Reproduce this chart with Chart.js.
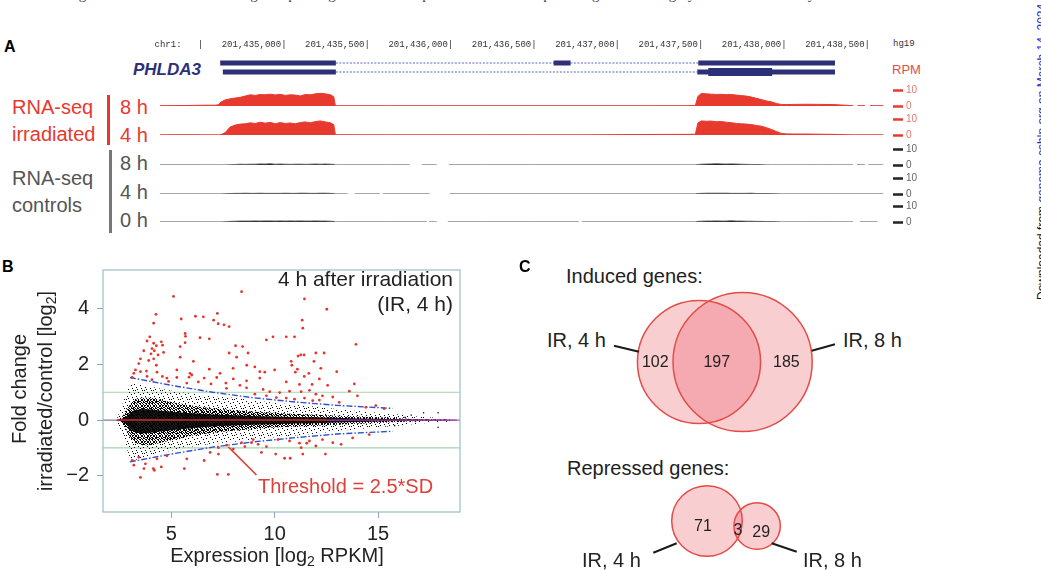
<!DOCTYPE html>
<html>
<head>
<meta charset="utf-8">
<script src="https://cdn.jsdelivr.net/npm/chart.js@4.4.1/dist/chart.umd.min.js"></script>
<style>
  body { margin: 0; width: 1041px; height: 574px; overflow: hidden; background: #fff;
         font-family: "Liberation Sans", Arial, sans-serif; position: relative; }
  .t { position: absolute; white-space: nowrap; line-height: 1; }
  .wrap { position: absolute; }
  sub { font-size: 70%; vertical-align: -0.3em; line-height: 0; }
</style>
</head>
<body>

<!-- bits of the page around the figure -->
<div class="t" style="left:0;top:-13px;font-family:'Liberation Serif',serif;font-size:15px;color:#444;">we waves of gene induction at individual genes peaking at either time point.&nbsp;&nbsp; The set of repressed genes was highly enriched for cell cycle</div>
<div class="t" style="left:1036px;top:300px;transform:rotate(-90deg);transform-origin:left top;font-size:12px;color:#111;">Downloaded from <span style="color:#1530d0">genome.cshlp.org on March 14, 2024</span></div>

<!-- panel A -->
<div class="t" style="left:4px;top:39px;font-size:16px;font-weight:bold;">A</div>
<div class="t" style="left:893px;top:40px;font-family:'Liberation Mono',monospace;font-size:9px;color:#333;">hg19</div>
<div class="t" style="left:133px;top:61px;font-size:17px;font-weight:bold;font-style:italic;color:#2c3079;">PHLDA3</div>
<div class="t" style="left:892px;top:63px;font-size:13px;color:#e0504a;">RPM</div>

<div class="t" style="left:12px;top:97px;font-size:20px;color:#e8382f;">RNA-seq</div>
<div class="t" style="left:12px;top:124px;font-size:20px;color:#e8382f;">irradiated</div>
<div class="wrap" style="left:107px;top:95px;width:3px;height:50px;background:#e8382f;"></div>
<div class="t" style="left:120px;top:97px;font-size:20px;color:#e8382f;">8 h</div>
<div class="t" style="left:120px;top:125px;font-size:20px;color:#e8382f;">4 h</div>

<div class="t" style="left:12px;top:168px;font-size:20px;color:#555;">RNA-seq</div>
<div class="t" style="left:12px;top:195px;font-size:20px;color:#555;">controls</div>
<div class="wrap" style="left:109px;top:150px;width:3px;height:83px;background:#777;"></div>
<div class="t" style="left:120px;top:153px;font-size:20px;color:#555;">8 h</div>
<div class="t" style="left:120px;top:182px;font-size:20px;color:#555;">4 h</div>
<div class="t" style="left:120px;top:210px;font-size:20px;color:#555;">0 h</div>

<div class="wrap" style="left:150px;top:36px;width:800px;height:46px;"><canvas id="gene"></canvas></div>
<div class="wrap" style="left:150px;top:81px;width:800px;height:34px;"><canvas id="trk0"></canvas></div>
<div class="wrap" style="left:150px;top:110px;width:800px;height:34px;"><canvas id="trk1"></canvas></div>
<div class="wrap" style="left:150px;top:140px;width:800px;height:34px;"><canvas id="trk2"></canvas></div>
<div class="wrap" style="left:150px;top:169px;width:800px;height:34px;"><canvas id="trk3"></canvas></div>
<div class="wrap" style="left:150px;top:197px;width:800px;height:34px;"><canvas id="trk4"></canvas></div>

<!-- panel B -->
<div class="t" style="left:2px;top:259px;font-size:16px;font-weight:bold;">B</div>
<div class="wrap" style="left:0;top:250px;width:470px;height:324px;"><canvas id="ma"></canvas></div>
<div class="t" style="left:-111px;top:379px;width:260px;text-align:center;font-size:20px;color:#222;transform:rotate(-90deg);">Fold change</div>
<div class="t" style="left:-85px;top:381px;width:260px;text-align:center;font-size:20px;color:#222;transform:rotate(-90deg);">irradiated/control [log<sub>2</sub>]</div>
<div class="t" style="left:77px;top:545px;width:400px;text-align:center;font-size:20px;color:#222;">Expression [log<sub>2</sub> RPKM]</div>
<div class="t" style="right:588px;top:268px;font-size:21px;color:#222;">4 h after irradiation</div>
<div class="t" style="right:588px;top:293px;font-size:21px;color:#222;">(IR, 4 h)</div>
<div class="t" style="left:258px;top:476px;font-size:20px;color:#e0403a;">Threshold = 2.5*SD</div>

<!-- panel C -->
<div class="t" style="left:519px;top:259px;font-size:16px;font-weight:bold;">C</div>
<div class="t" style="left:566px;top:266px;font-size:20px;color:#222;">Induced genes:</div>
<div class="t" style="left:547px;top:330px;font-size:20px;color:#222;">IR, 4 h</div>
<div class="t" style="left:843px;top:330px;font-size:20px;color:#222;">IR, 8 h</div>
<div class="t" style="left:567px;top:458px;font-size:20px;color:#222;">Repressed genes:</div>
<div class="t" style="left:582px;top:550px;font-size:20px;color:#222;">IR, 4 h</div>
<div class="t" style="left:803px;top:550px;font-size:20px;color:#222;">IR, 8 h</div>
<div class="wrap" style="left:520px;top:250px;width:400px;height:324px;"><canvas id="venn"></canvas></div>

<script>
// ---------- Panel A data: genome browser (positions in bp after chromStart) ----------
const chromStart = 201434000;
const rulerTicks = [500, 1000, 1500, 2000, 2500, 3000, 3500, 4000, 4500];

// PHLDA3 transcripts
const tx1Exons = [[602, 1296], [2602, 2704], [3470, 4290]];
const tx2Exons = [[618, 1296], [3464, 4290]];
const tx2Cds = [[3530, 3913]];

// coverage tracks (RPM)
const trackPos = [250, 400, 520, 580, 600, 615, 640, 670, 700, 730,
  760, 790, 820, 850, 880, 910, 940, 970, 1000, 1030,
  1060, 1090, 1120, 1150, 1180, 1210, 1240, 1270, 1290, 1300,
  1320, 1600, 1900, 2200, 2500, 2800, 3100, 3400, 3455, 3470,
  3490, 3520, 3550, 3580, 3610, 3640, 3670, 3700, 3730, 3760,
  3790, 3820, 3850, 3880, 3910, 3940, 3970, 4000, 4050, 4120,
  4200, 4280, 4350, 4400, 4580];

const ir8h = [0.2, 0.3, 0.5, 0.5, 0.8, 2.5, 3.8, 4.5, 5.0, 5.4,
  6.2, 7.0, 6.6, 7.2, 7.0, 7.4, 6.9, 7.3, 6.6, 7.0,
  6.8, 6.3, 7.2, 7.0, 7.6, 7.9, 7.6, 7.0, 5.8, 0.2,
  0.15, 0.15, 0.15, 0.15, 0.15, 0.15, 0.15, 0.2, 0.3, 6.0,
  7.8, 7.6, 7.4, 7.2, 7.3, 7.1, 7.2, 6.8, 6.5, 6.2,
  5.6, 4.8, 4.0, 3.2, 2.6, 1.6, 0.9, 0.9, 1.0, 1.1,
  1.0, 0.9, 0.5, 0.2, 0.2];
const ir4h = [0.1, 0.2, 0.1, 0.1, 0.1, 0.2, 1.5, 5.0, 6.2, 6.8,
  7.0, 7.6, 7.2, 8.0, 7.4, 7.9, 7.0, 7.8, 7.2, 7.5,
  7.0, 7.8, 8.2, 7.6, 8.4, 8.8, 8.2, 7.6, 6.5, 0.2,
  0.15, 0.1, 0.1, 0.1, 0.1, 0.1, 0.3, 0.4, 0.5, 7.5,
  8.8, 8.6, 8.7, 8.3, 8.4, 8.0, 7.7, 7.2, 7.0, 6.8,
  6.5, 6.0, 5.5, 4.6, 3.5, 2.2, 1.0, 0.7, 0.6, 0.6,
  0.5, 0.4, 0.2, 0.1, 0.1];
const ctl8h = [0.05, 0.05, 0.05, 0.05, 0.05, 0.05, 0.05, 0.1, 0.3, 0.5,
  0.4, 0.5, 0.5, 0.7, 0.6, 0.8, 0.5, 0.6, 0.5, 0.4,
  0.5, 0.5, 0.4, 0.5, 0.6, 0.5, 0.6, 0.5, 0.4, 0.05,
  0.05, 0.05, 0.05, 0.05, 0.05, 0.05, 0.05, 0.05, 0.05, 0.3,
  0.5, 0.6, 0.7, 0.8, 0.7, 0.6, 0.7, 0.6, 0.5, 0.4,
  0.3, 0.3, 0.2, 0.05, 0.05, 0.05, 0.05, 0.05, 0.05, 0.05,
  0.05, 0.05, 0.05, 0.05, 0.05];
const ctl4h = [0.05, 0.05, 0.05, 0.05, 0.05, 0.05, 0.1, 0.3, 0.4, 0.4,
  0.5, 0.4, 0.4, 0.5, 0.4, 0.4, 0.4, 0.4, 0.5, 0.4,
  0.4, 0.5, 0.5, 0.4, 0.4, 0.5, 0.5, 0.4, 0.3, 0.05,
  0.05, 0.05, 0.05, 0.05, 0.05, 0.05, 0.05, 0.05, 0.05, 0.3,
  0.4, 0.5, 0.5, 0.5, 0.5, 0.5, 0.4, 0.4, 0.4, 0.4,
  0.5, 0.3, 0.3, 0.3, 0.2, 0.1, 0.05, 0.05, 0.05, 0.05,
  0.05, 0.05, 0.05, 0.05, 0.05];
const ctl0h = [0.05, 0.05, 0.05, 0.05, 0.05, 0.05, 0.1, 0.4, 0.5, 0.6,
  0.6, 0.6, 0.7, 0.6, 0.7, 0.7, 0.6, 0.7, 0.6, 0.7,
  0.6, 0.7, 0.6, 0.6, 0.7, 0.6, 0.6, 0.5, 0.4, 0.05,
  0.05, 0.05, 0.05, 0.05, 0.05, 0.05, 0.05, 0.05, 0.05, 0.4,
  0.5, 0.6, 0.6, 0.7, 0.6, 0.6, 0.8, 0.6, 0.6, 0.5,
  0.5, 0.4, 0.4, 0.3, 0.3, 0.2, 0.05, 0.05, 0.05, 0.05,
  0.05, 0.05, 0.05, 0.05, 0.05];

// stretches with no coverage
const ir8hGaps = [[4400, 4425], [4470, 4500]];
const ir4hGaps = [];
const ctl8hGaps = [[1745, 1817], [1907, 1979], [4398, 4422], [4470, 4490]];
const ctl4hGaps = [[1374, 1416], [1566, 1584], [1865, 1985]];
const ctl0hGaps = [[1847, 1860], [1907, 1973], [2757, 2775], [4398, 4440], [4545, 4600]];

// ---------- Panel B data: MA plot ----------
const xTicks = [5, 10, 15];
const yTicks = [-2, 0, 2, 4];

const inducedPts = [[8.40, 4.61], [5.11, 4.44], [11.44, 4.35], [12.52, 3.98], [4.26, 3.80], [7.23, 3.83],
  [6.17, 3.73], [6.55, 3.71], [5.48, 3.63], [7.05, 3.59], [11.33, 3.59], [4.15, 3.48], [7.27, 3.46],
  [7.55, 3.42], [7.80, 3.36], [11.36, 3.30], [3.96, 2.99], [5.67, 3.11], [5.69, 3.01], [6.39, 2.96],
  [6.84, 2.92], [9.92, 2.99], [10.56, 2.99], [10.96, 2.99], [9.60, 2.88], [3.83, 2.84], [5.67, 2.78],
  [5.43, 2.64], [4.15, 2.76], [4.28, 2.67], [4.52, 2.81], [4.58, 2.69], [13.93, 2.72], [8.11, 2.67],
  [8.45, 2.64], [3.67, 2.49], [4.07, 2.57], [4.18, 2.49], [4.02, 2.38], [4.36, 2.34], [4.63, 2.43],
  [7.80, 2.41], [8.71, 2.41], [11.99, 2.41], [12.39, 2.41], [11.26, 2.34], [11.42, 2.34], [11.13, 2.30],
  [3.51, 2.20], [3.91, 2.14], [4.15, 2.20], [5.43, 2.26], [8.16, 2.26], [6.07, 2.11], [10.80, 2.11],
  [10.83, 1.97], [11.90, 2.11], [3.43, 2.03], [4.28, 1.97], [8.65, 1.97], [9.04, 1.91], [7.99, 1.86],
  [6.84, 1.83], [11.10, 1.83], [12.23, 1.86], [13.0, 1.74], [3.27, 1.80], [3.80, 1.76], [3.51, 1.74],
  [4.31, 1.72], [5.27, 1.80], [5.91, 1.68], [5.99, 1.62], [7.36, 1.68], [9.28, 1.74], [9.52, 1.72],
  [10.0, 1.80], [11.0, 1.72], [11.65, 1.68], [3.19, 1.68], [3.83, 1.57], [4.57, 1.57], [4.79, 1.51],
  [5.27, 1.53], [5.86, 1.54], [6.59, 1.51], [7.20, 1.53], [8.0, 1.48], [8.64, 1.41], [9.28, 1.51],
  [11.43, 1.57], [12.16, 1.48], [13.85, 1.30], [3.11, 1.53], [4.07, 1.45], [4.87, 1.39], [5.75, 1.33],
  [6.31, 1.37], [6.92, 1.30], [7.64, 1.33], [8.32, 1.25], [10.56, 1.37], [11.20, 1.28], [11.81, 1.28],
  [12.56, 1.25], [7.67, 1.14], [8.64, 1.16], [9.44, 1.10], [9.76, 1.02], [10.24, 0.99], [10.72, 1.04],
  [11.28, 1.02], [11.68, 1.07], [13.61, 1.04], [11.99, 0.93], [12.31, 0.87], [12.81, 0.83], [14.0, 0.87],
  [9.04, 0.93], [9.60, 0.87], [10.08, 0.81], [10.56, 0.79], [10.96, 0.75], [11.44, 0.79], [11.84, 0.70],
  [12.16, 0.72], [13.12, 0.64], [14.89, 0.52], [15.29, 0.41], [14.41, 0.46]];

const repressedPts = [[9.20, -0.87], [9.60, -0.95], [10.16, -0.70], [10.72, -0.75], [11.20, -0.83],
  [11.28, -0.99], [11.68, -0.75], [11.99, -0.93], [12.31, -0.70], [12.81, -0.81], [13.21, -0.87],
  [13.77, -0.64], [14.57, -0.52], [8.56, -0.95], [8.40, -0.81], [8.96, -0.70], [9.36, -1.16],
  [10.05, -1.22], [10.48, -1.37], [10.75, -1.37], [11.36, -1.22], [12.45, -1.22], [11.55, -0.83],
  [8.0, -1.04], [7.28, -0.99], [7.68, -0.90], [6.88, -1.16], [6.59, -1.45], [7.28, -1.22], [5.75, -1.39],
  [4.79, -1.28], [4.31, -1.39], [3.75, -1.57], [3.19, -1.62], [3.43, -1.33], [3.11, -1.45], [3.68, -1.74],
  [4.13, -1.74], [4.52, -1.68], [4.18, -1.80], [3.51, -2.06], [5.63, -1.74], [7.23, -1.95], [7.76, -1.95],
  [8.88, -0.81]];

// the bulk of unchanged genes, read as envelopes of the black cloud
const cloudX = [2.35, 2.6, 2.8, 3.0, 3.2, 3.6, 4.0, 5, 6, 7, 8, 9, 10, 11, 12, 13, 14, 15, 16, 17, 18.5];
const sparseHi = [0, 0.5, 0.9, 1.3, 1.35, 1.25, 1.2, 1.05, 0.95, 0.85, 0.8, 0.7, 0.62, 0.55, 0.48, 0.4, 0.33, 0.26, 0.2, 0.12, 0.06];
const sparseLo = [0, -0.5, -0.9, -1.35, -1.45, -1.35, -1.25, -1.1, -0.95, -0.85, -0.78, -0.7, -0.62, -0.55, -0.48, -0.4, -0.33, -0.26, -0.2, -0.12, -0.06];
const denseHi = [0, 0.1, 0.3, 0.55, 0.7, 0.8, 0.8, 0.65, 0.52, 0.42, 0.36, 0.3, 0.26, 0.22, 0.19, 0.16, 0.13, 0.1, 0.07, 0.03, 0.01];
const denseLo = [0, -0.1, -0.3, -0.6, -0.8, -0.9, -0.9, -0.72, -0.56, -0.45, -0.38, -0.32, -0.27, -0.23, -0.2, -0.17, -0.13, -0.1, -0.07, -0.03, -0.01];
const coreHi = [0, 0.05, 0.12, 0.25, 0.35, 0.4, 0.38, 0.3, 0.25, 0.2, 0.17, 0.15, 0.13, 0.11, 0.1, 0.08, 0.06, 0.05, 0.03, 0.01, 0];
const coreLo = [0, -0.05, -0.14, -0.3, -0.42, -0.48, -0.45, -0.36, -0.29, -0.23, -0.19, -0.17, -0.15, -0.12, -0.11, -0.09, -0.07, -0.05, -0.03, -0.01, 0];
const strayPts = [[15.8, -0.2], [16.3, 0.1], [16.6, 0.18], [16.8, -0.05], [17.2, 0.26], [17.9, 0.26], [17.9, -0.26]];

// threshold lines (2.5 SD)
const threshX = [3.0, 5, 7, 9, 11, 13, 15.7];
const threshHi = [1.53, 1.25, 1.0, 0.8, 0.65, 0.53, 0.42];
const threshLo = [-1.5, -1.22, -0.97, -0.78, -0.63, -0.5, -0.4];

// ---------- Panel C data: Venn counts [4 h only, both, 8 h only] ----------
const inducedCounts = [102, 197, 185];
const repressedCounts = [71, 3, 29];

Chart.defaults.font.family = '"Liberation Sans", Arial, sans-serif';
Chart.defaults.animation = false;
Chart.defaults.events = [];
Chart.defaults.plugins.legend.display = false;
Chart.defaults.plugins.tooltip.enabled = false;

const xMin = chromStart + 250;
const xMax = chromStart + 4638;

// ---------- gene model + ruler ----------
function segment(a, b, row) {
  return [{x: chromStart + a, y: row}, {x: chromStart + b, y: row}];
}

let geneSets = [];
[[1, tx1Exons, []], [2, tx2Exons, tx2Cds]].forEach(([row, exons, cds]) => {
  cds.forEach(([a, b]) => geneSets.push({data: segment(a, b, row), borderColor: '#2c3079', borderWidth: 8, borderCapStyle: 'butt', pointRadius: 0}));
  exons.forEach(([a, b]) => geneSets.push({data: segment(a, b, row), borderColor: '#2c3079', borderWidth: 5, borderCapStyle: 'butt', pointRadius: 0}));
  geneSets.push({data: segment(exons[0][1], exons[exons.length - 1][0], row), borderColor: '#5866bb', borderWidth: 1.2, borderDash: [2, 1.5], pointRadius: 0});
});

new Chart('gene', {
  type: 'line',
  data: {datasets: geneSets},
  options: {
    responsive: true, maintainAspectRatio: false, devicePixelRatio: 1,
    layout: {padding: {left: 10, right: 57, top: 0, bottom: 0}},
    scales: {
      x: {type: 'linear', position: 'top', min: xMin, max: xMax,
        afterBuildTicks: s => { s.ticks = rulerTicks.map(v => ({value: chromStart + v})); },
        afterFit: s => { s.height = 18; },
        grid: {display: false, drawTicks: false}, border: {display: false},
        ticks: {font: {family: '"Liberation Mono", monospace', size: 9}, color: '#333', align: 'end',
          padding: 4, maxRotation: 0, minRotation: 0, autoSkip: false,
          callback: (v, i) => i === 0 ? 'chr1:   |' : v.toLocaleString('en-US') + '|'}},
      y: {min: 0, max: 3.11, reverse: true, display: false}
    }
  }
});

// ---------- coverage tracks ----------
function trackPoints(values, gaps) {
  let pts = trackPos.map((p, i) => ({x: chromStart + p, y: values[i]}));
  gaps.forEach(([a, b]) => {
    const before = pts.filter(p => p.x <= chromStart + a && p.y !== null);
    const v = before.length ? before[before.length - 1].y : 0;
    pts = pts.filter(p => p.x < chromStart + a || p.x > chromStart + b);
    pts.push({x: chromStart + a, y: v}, {x: chromStart + (a + b) / 2, y: null}, {x: chromStart + b, y: v});
  });
  return pts.sort((p, q) => p.x - q.x);
}

const tracks = [
  {id: 'trk0', values: ir8h, gaps: ir8hGaps, line: '#e8392f', fill: '#e8392f', tick: '#e8392f', label: '#e07a72'},
  {id: 'trk1', values: ir4h, gaps: ir4hGaps, line: '#e8392f', fill: '#e8392f', tick: '#e8392f', label: '#e07a72'},
  {id: 'trk2', values: ctl8h, gaps: ctl8hGaps, line: '#6a6a6a', fill: '#111', tick: '#222', label: '#666'},
  {id: 'trk3', values: ctl4h, gaps: ctl4hGaps, line: '#6a6a6a', fill: '#111', tick: '#222', label: '#666'},
  {id: 'trk4', values: ctl0h, gaps: ctl0hGaps, line: '#6a6a6a', fill: '#111', tick: '#222', label: '#666'}
];

tracks.forEach(t => {
  new Chart(t.id, {
    type: 'line',
    data: {datasets: [{data: trackPoints(t.values, t.gaps), borderColor: t.line, borderWidth: 1,
      backgroundColor: t.fill, fill: 'origin', pointRadius: 0, tension: 0, spanGaps: false}]},
    options: {
      responsive: true, maintainAspectRatio: false, devicePixelRatio: 1,
      layout: {padding: {left: 10, right: 17, top: 5, bottom: 5}},
      scales: {
        x: {type: 'linear', min: xMin, max: xMax, display: false},
        y: {position: 'right', min: 0, max: 10,
          afterBuildTicks: s => { s.ticks = [{value: 0}, {value: 10}]; },
          afterFit: s => { s.width = 40; },
          grid: {drawOnChartArea: false, tickLength: 10, tickWidth: 2.5, tickColor: t.tick},
          border: {display: false},
          ticks: {font: {size: 10}, color: t.label, padding: 3}}
      }
    }
  });
});

// ---------- MA plot ----------
function dotPattern(size, dots) {
  const c = document.createElement('canvas');
  c.width = size; c.height = size;
  const g = c.getContext('2d');
  g.fillStyle = '#000';
  dots.forEach(([x, y]) => g.fillRect(x, y, 1, 1));
  return g.createPattern(c, 'repeat');
}
const sparseFill = dotPattern(9, [[1, 2], [5, 0], [7, 5], [3, 7], [0, 5], [6, 3], [2, 4], [8, 8]]);
const denseFill = dotPattern(6, [[0, 0], [2, 1], [4, 0], [1, 3], [3, 2], [5, 4], [0, 5], [2, 4], [4, 3],
  [5, 1], [1, 1], [3, 5], [0, 2], [4, 5], [2, 3], [5, 2], [3, 0]]);

const pairs = arr => arr.map(([x, y]) => ({x, y}));
const band = (hi, lo, bg) => [
  {data: cloudX.map((x, i) => ({x, y: hi[i]})), fill: '+1', backgroundColor: bg, borderColor: 'transparent', borderWidth: 0, pointRadius: 0},
  {data: cloudX.map((x, i) => ({x, y: lo[i]})), fill: false, borderColor: 'transparent', borderWidth: 0, pointRadius: 0}
];
const hline = (y, x0, x1, color, w) => ({data: [{x: x0, y}, {x: x1, y}], borderColor: color, borderWidth: w, pointRadius: 0, fill: false});

const maSets = [
  {data: pairs(inducedPts.concat(repressedPts)), showLine: false, pointRadius: 1.4, pointBorderWidth: 0, pointBackgroundColor: '#e5342c'},
  {data: [{x: 7.76, y: -0.96}, {x: 9.12, y: -1.97}], borderColor: '#e0403a', borderWidth: 1.6, pointRadius: 0},
  {data: threshX.map((x, i) => ({x, y: threshHi[i]})), borderColor: '#2d4fd0', borderWidth: 1.4, borderDash: [6, 2, 1.5, 2], pointRadius: 0},
  {data: threshX.map((x, i) => ({x, y: threshLo[i]})), borderColor: '#2d4fd0', borderWidth: 1.4, borderDash: [6, 2, 1.5, 2], pointRadius: 0},
  hline(0, 2.4, 12.5, '#e02a2a', 1.5),
  hline(0, 12.5, 18.8, '#b03ab0', 1.2),
  {data: pairs(strayPts), showLine: false, pointRadius: 0.8, pointBorderWidth: 0, pointBackgroundColor: '#222'},
  ...band(coreHi, coreLo, 'rgba(0,0,0,0.9)'),
  ...band(denseHi, denseLo, denseFill),
  ...band(sparseHi, sparseLo, sparseFill),
  hline(0, 1.7, 18.96, '#5a5f80', 1),
  hline(1, 1.7, 18.96, '#a4d6ac', 1.2),
  hline(-1, 1.7, 18.96, '#a4d6ac', 1.2)
];

const boxPlugin = {
  id: 'rbox',
  afterDraw(chart) {
    const a = chart.chartArea, ctx = chart.ctx;
    ctx.save();
    ctx.strokeStyle = '#9bbcc8';
    ctx.lineWidth = 1.2;
    ctx.strokeRect(a.left, a.top, a.right - a.left, a.bottom - a.top);
    ctx.restore();
  }
};

new Chart('ma', {
  type: 'line',
  data: {datasets: maSets},
  plugins: [boxPlugin],
  options: {
    responsive: true, maintainAspectRatio: false, devicePixelRatio: 1,
    layout: {padding: {left: 0, right: 10, top: 12, bottom: 0}},
    scales: {
      x: {type: 'linear', min: 1.7, max: 18.96,
        afterBuildTicks: s => { s.ticks = xTicks.map(v => ({value: v})); },
        afterFit: s => { s.height = 62; },
        grid: {drawOnChartArea: false, tickLength: 6, color: '#8fa6b0'}, border: {display: false},
        ticks: {font: {size: 20}, color: '#222', padding: 4}},
      y: {min: -3.3, max: 5.39,
        afterBuildTicks: s => { s.ticks = yTicks.map(v => ({value: v})); },
        afterFit: s => { s.width = 103; },
        grid: {drawOnChartArea: false, tickLength: 6, color: '#8fa6b0'}, border: {display: false},
        ticks: {font: {size: 20}, color: '#222', padding: 8, callback: v => String(v).replace('-', '\u2212')}}
    }
  }
});

// ---------- Venn diagrams (area proportional) ----------
const vennLayout = [
  {cx: 179, cy: 112, scale: 3.56, tilt: 0, labelDy: 1},
  {cx: 187, cy: 271, scale: 4.1, tilt: 0.1, labelDy: 6}
];
const vennLeaders = [[94, 95.7, 119, 101.7], [291.7, 100.7, 315, 94.3], [133.3, 302.7, 156.7, 293.3], [251.7, 293.3, 276.7, 301.7]];

function lensArea(r1, r2, d) {
  if (d >= r1 + r2) return 0;
  if (d <= Math.abs(r1 - r2)) return Math.PI * Math.min(r1, r2) ** 2;
  const a1 = Math.acos((d * d + r1 * r1 - r2 * r2) / (2 * d * r1));
  const a2 = Math.acos((d * d + r2 * r2 - r1 * r1) / (2 * d * r2));
  return r1 * r1 * (a1 - Math.sin(2 * a1) / 2) + r2 * r2 * (a2 - Math.sin(2 * a2) / 2);
}
function solveDistance(r1, r2, target) {
  let lo = Math.abs(r1 - r2), hi = r1 + r2;
  for (let i = 0; i < 60; i++) {
    const mid = (lo + hi) / 2;
    if (lensArea(r1, r2, mid) > target) lo = mid; else hi = mid;
  }
  return (lo + hi) / 2;
}

const vennDiagrams = [inducedCounts, repressedCounts].map((c, i) => {
  const L = vennLayout[i];
  const r1 = L.scale * Math.sqrt(c[0] + c[1]);
  const r2 = L.scale * Math.sqrt(c[2] + c[1]);
  const d = solveDistance(r1, r2, Math.PI * L.scale * L.scale * c[1]);
  const ux = Math.cos(L.tilt), uy = Math.sin(L.tilt);
  const spots = [(-r1 + d - r2) / 2, (d - r2 + r1) / 2, (r1 + d + r2) / 2];
  return {
    circles: [{x: L.cx, y: L.cy, r: r1}, {x: L.cx + d * ux, y: L.cy + d * uy, r: r2}],
    labels: spots.map((t, k) => ({x: L.cx + t * ux, y: L.cy + t * uy + L.labelDy, text: String(c[k])}))
  };
});

const vennPlugin = {
  id: 'vennText',
  afterDatasetsDraw(chart) {
    const {ctx} = chart, sx = chart.scales.x, sy = chart.scales.y;
    ctx.save();
    ctx.strokeStyle = '#1a1a1a';
    ctx.lineWidth = 2;
    vennLeaders.forEach(([x1, y1, x2, y2]) => {
      ctx.beginPath();
      ctx.moveTo(sx.getPixelForValue(x1), sy.getPixelForValue(y1));
      ctx.lineTo(sx.getPixelForValue(x2), sy.getPixelForValue(y2));
      ctx.stroke();
    });
    ctx.fillStyle = '#222';
    ctx.font = '16px "Liberation Sans", Arial, sans-serif';
    ctx.textAlign = 'center';
    ctx.textBaseline = 'middle';
    vennDiagrams.forEach(v => v.labels.forEach(l => ctx.fillText(l.text, sx.getPixelForValue(l.x), sy.getPixelForValue(l.y))));
    ctx.restore();
  }
};

new Chart('venn', {
  type: 'bubble',
  data: {datasets: vennDiagrams.flatMap(v => v.circles).map(c => ({
    data: [c], backgroundColor: 'rgba(235,80,90,0.28)', borderColor: '#e34b45', borderWidth: 1.5
  }))},
  plugins: [vennPlugin],
  options: {
    responsive: true, maintainAspectRatio: false, devicePixelRatio: 1,
    layout: {padding: 0, autoPadding: false},
    scales: {
      x: {type: 'linear', min: 0, max: 400, display: false},
      y: {type: 'linear', min: 0, max: 324, reverse: true, display: false}
    }
  }
});
</script>
</body>
</html>
